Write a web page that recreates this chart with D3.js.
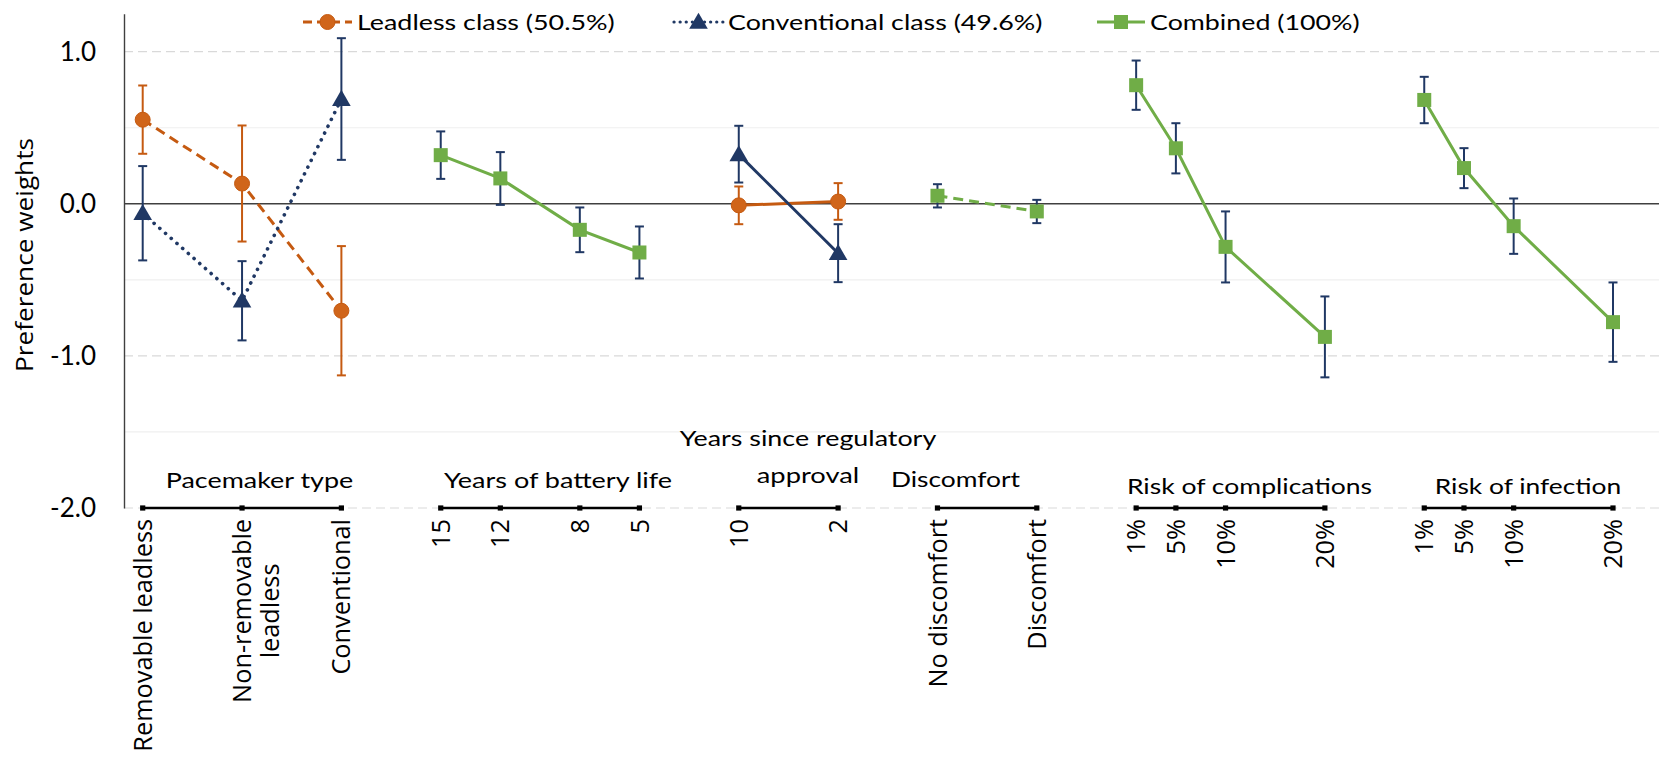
<!DOCTYPE html>
<html>
<head>
<meta charset="utf-8">
<script src="https://cdn.jsdelivr.net/npm/d3@7"></script>
<style>
  html, body { margin: 0; padding: 0; background: #fff; }
  svg { display: block; }
</style>
</head>
<body>
<svg id="chart" width="1659" height="760"></svg>
<script>
// ---------------- DATA ----------------
const groupNames = ["Pacemaker type", "Years of battery life", "Years since regulatory\napproval", "Discomfort", "Risk of complications", "Risk of infection"];
const levelLabels = ["Removable leadless", "Non-removable\nleadless", "Conventional", "15", "12", "8", "5", "10", "2", "No discomfort", "Discomfort", "1%", "5%", "10%", "20%", "1%", "5%", "10%", "20%"];
const levelGroup = [0, 0, 0, 1, 1, 1, 1, 2, 2, 3, 3, 4, 4, 4, 4, 5, 5, 5, 5];
// x values of the scatter (level position along the axis)
const levelX = [1, 6, 11, 16, 19, 23, 26, 31, 36, 41, 46, 51, 53, 55.5, 60.5, 65.5, 67.5, 70, 75];

const seriesNames = ["Leadless class (50.5%)", "Conventional class (49.6%)", "Combined (100%)"];
const leadlessVal = [0.553, 0.133, -0.703, null, null, null, null, -0.010, 0.015, null, null, null, null, null, null, null, null, null, null];
const leadlessHi  = [0.778, 0.515, -0.278, null, null, null, null, 0.114, 0.136, null, null, null, null, null, null, null, null, null, null];
const leadlessLo  = [0.329, -0.248, -1.128, null, null, null, null, -0.134, -0.105, null, null, null, null, null, null, null, null, null, null];

const conventionalVal = [-0.062, -0.637, 0.689, null, null, null, null, 0.325, -0.325, null, null, null, null, null, null, null, null, null, null];
const conventionalHi  = [0.248, -0.377, 1.089, null, null, null, null, 0.513, -0.134, null, null, null, null, null, null, null, null, null, null];
const conventionalLo  = [-0.372, -0.898, 0.289, null, null, null, null, 0.140, -0.515, null, null, null, null, null, null, null, null, null, null];

const combinedVal = [null, null, null, 0.320, 0.167, -0.171, -0.320, null, null, 0.053, -0.050, 0.780, 0.365, -0.283, -0.875, 0.683, 0.235, -0.147, -0.778];
const combinedHi  = [null, null, null, 0.476, 0.340, -0.024, -0.149, null, null, 0.129, 0.026, 0.942, 0.530, -0.050, -0.609, 0.835, 0.366, 0.035, -0.517];
const combinedLo  = [null, null, null, 0.164, -0.007, -0.318, -0.491, null, null, -0.024, -0.127, 0.618, 0.200, -0.517, -1.141, 0.530, 0.103, -0.329, -1.039];

const yTickValues = [1, 0, -1, -2];
const yAxisTitle = "Preference weights";

// ---------------- STYLE / LAYOUT ----------------
const W = 1659, H = 760;
const ORANGE = "#C55A11", NAVY = "#203864", GREEN = "#70AD47";
const svg = d3.select("#chart");

const x = d3.scaleLinear().domain([1, 75]).range([142.7, 1613]);
const y = d3.scaleLinear().domain([-2, 1.25]).range([508, 13.7]);
const axisX = 124;

// Calibri-like advance widths (per em) to size narrow text
const cw = {a:.479,b:.525,c:.423,d:.525,e:.498,f:.305,g:.471,h:.525,i:.229,j:.239,k:.455,l:.229,m:.799,n:.525,o:.527,p:.525,q:.525,r:.349,s:.391,t:.335,u:.525,v:.452,w:.715,x:.433,y:.453,z:.395,
  A:.579,B:.544,C:.533,D:.615,E:.488,F:.459,G:.631,H:.623,I:.252,L:.420,P:.517,R:.543,S:.459,T:.487,Y:.487," ":.226,".":.252,"%":.715,"(":.303,")":.303,"-":.306};
function calW(s, size) { let t = 0; for (const ch of s) t += (cw[ch] !== undefined ? cw[ch] : (/[0-9]/.test(ch) ? .507 : .5)); return t * size; }

// ---------------- GRIDLINES ----------------
const gridVals = y.ticks(7); // step 0.5
svg.append("g").selectAll("line").data(gridVals.filter(v => v !== 0)).join("line")
  .attr("x1", axisX).attr("x2", W)
  .attr("y1", d => y(d)).attr("y2", d => y(d))
  .attr("stroke", d => Number.isInteger(d) ? "#d9d9d9" : "#efefef")
  .attr("stroke-width", 1.2)
  .attr("stroke-dasharray", d => Number.isInteger(d) ? "9,5" : null);

// zero line
svg.append("line").attr("x1", axisX).attr("x2", W).attr("y1", y(0)).attr("y2", y(0))
  .attr("stroke", "#404040").attr("stroke-width", 1.4);

// ---------------- Y AXIS ----------------
const yAxis = d3.axisLeft(y).tickValues(yTickValues).tickSize(0).tickSizeOuter(0).tickPadding(28)
  .tickFormat(d => d3.format(".1f")(d).replace("\u2212", "-"));
const gy = svg.append("g").attr("transform", `translate(${axisX},0)`).call(yAxis);
gy.select(".domain").attr("stroke", "#404040").attr("stroke-width", 1.4);
gy.selectAll("text").attr("font-family", "Lato, 'Liberation Sans', sans-serif").attr("font-size", 26).attr("fill", "#000");

svg.append("text").attr("transform", `translate(33,255) rotate(-90)`)
  .attr("text-anchor", "middle").attr("font-family", "'Open Sans', 'Noto Sans', sans-serif")
  .attr("font-size", 24).attr("fill", "#000")
  .attr("textLength", 234).attr("lengthAdjust", "spacingAndGlyphs").text(yAxisTitle);

// ---------------- X CATEGORY AXES ----------------
const groupIdx = d3.range(groupNames.length);
groupIdx.forEach(g => {
  const idx = levelGroup.map((gg, i) => gg === g ? i : -1).filter(i => i >= 0);
  const x0 = x(levelX[idx[0]]), x1 = x(levelX[idx[idx.length - 1]]);
  svg.append("line").attr("x1", x0).attr("x2", x1).attr("y1", y(-2)).attr("y2", y(-2))
    .attr("stroke", "#000").attr("stroke-width", 2.4);
  svg.append("g").selectAll("rect").data(idx).join("rect")
    .attr("x", i => x(levelX[i]) - 2.6).attr("y", y(-2) - 2.6).attr("width", 5.2).attr("height", 5.2).attr("fill", "#000");
});

// rotated level labels
const labelTop = 519;
levelLabels.forEach((lab, i) => {
  const lines = lab.split("\n");
  const g = svg.append("g").attr("transform", `translate(${x(levelX[i])},${labelTop}) rotate(-90)`);
  const texts = lines.map((ln, k) => g.append("text")
    .attr("font-family", "'Open Sans', 'Noto Sans', sans-serif").attr("font-size", 25.3).attr("fill", "#000")
    .attr("y", k * 28).attr("dy", "0.36em").text(ln));
  if (lines.length === 1) {
    texts[0].attr("text-anchor", "end").attr("x", 0);
  } else {
    const L = d3.max(texts, t => t.node().getComputedTextLength());
    texts.forEach(t => t.attr("text-anchor", "middle").attr("x", -L / 2));
  }
});

// group titles (text boxes)
const titleLayout = [
  {cx: 259.5, base: [488]},
  {cx: 558, base: [488]},
  {cx: 808, base: [446, 483]},
  {cx: 955.5, base: [487]},
  {cx: 1249.5, base: [494]},
  {cx: 1528, base: [494]}
];
groupNames.forEach((name, g) => {
  name.split("\n").forEach((ln, k) => {
    svg.append("text").attr("x", titleLayout[g].cx).attr("y", titleLayout[g].base[k])
      .attr("text-anchor", "middle").attr("font-family", "Lato, 'Liberation Sans', sans-serif")
      .attr("font-size", 22).attr("fill", "#000")
      .attr("textLength", calW(ln, 28.7)).attr("lengthAdjust", "spacingAndGlyphs").text(ln);
  });
});

// ---------------- SERIES ----------------
const series = [
  {name: seriesNames[0], val: leadlessVal, hi: leadlessHi, lo: leadlessLo, color: ORANGE, errColor: ORANGE, marker: "circle",
   dash: {0: "10,6", 2: null}},
  {name: seriesNames[1], val: conventionalVal, hi: conventionalHi, lo: conventionalLo, color: NAVY, errColor: NAVY, marker: "triangle",
   dash: {0: "0.1,7.5", 2: null}},
  {name: seriesNames[2], val: combinedVal, hi: combinedHi, lo: combinedLo, color: GREEN, errColor: NAVY, marker: "square",
   dash: {1: null, 3: "10,6", 4: null, 5: null}}
];

let s_cur = null;
const line = d3.line().x(i => x(levelX[i])).y(i => y(s_cur.val[i]));
const gLines = svg.append("g"), gErr = svg.append("g"), gMark = svg.append("g");

series.forEach(s => {
  s_cur = s;
  groupIdx.forEach(g => {
    const idx = levelGroup.map((gg, i) => (gg === g && s.val[i] !== null) ? i : -1).filter(i => i >= 0);
    if (idx.length < 2) return;
    const dash = s.dash[g];
    gLines.append("path").attr("d", line(idx)).attr("fill", "none")
      .attr("stroke", s.color).attr("stroke-width", dash && dash.startsWith("0.1") ? 3.6 : 3)
      .attr("stroke-linecap", dash && dash.startsWith("0.1") ? "round" : "butt")
      .attr("stroke-dasharray", dash);
  });
});

function drawMarker(sel, type, color, cx, cy) {
  if (type === "circle") {
    sel.append("circle").attr("cx", cx).attr("cy", cy).attr("r", 7.5).attr("fill", "#D0651A").attr("stroke", color).attr("stroke-width", 1);
  } else if (type === "triangle") {
    sel.append("path").attr("d", d3.symbol(d3.symbolTriangle, 150)()).attr("transform", `translate(${cx},${cy + 1.5})`).attr("fill", color);
  } else {
    sel.append("rect").attr("x", cx - 7).attr("y", cy - 7).attr("width", 14).attr("height", 14).attr("fill", color);
  }
}

series.forEach(s => {
  s.val.forEach((v, i) => {
    if (v === null) return;
    const cx = x(levelX[i]);
    gErr.append("line").attr("x1", cx).attr("x2", cx).attr("y1", y(s.hi[i])).attr("y2", y(s.lo[i]))
      .attr("stroke", s.errColor).attr("stroke-width", 2);
    [s.hi[i], s.lo[i]].forEach(e => gErr.append("line").attr("x1", cx - 4.5).attr("x2", cx + 4.5)
      .attr("y1", y(e)).attr("y2", y(e)).attr("stroke", s.errColor).attr("stroke-width", 2));
    drawMarker(gMark, s.marker, s.color, cx, y(v));
  });
});

// ---------------- LEGEND ----------------
const legendLayout = [
  {x0: 303, x1: 352, tx: 357},
  {x0: 674, x1: 723, tx: 728},
  {x0: 1097, x1: 1145, tx: 1150}
];
const legY = 22;
series.forEach((s, k) => {
  const L = legendLayout[k];
  const firstDash = Object.values(s.dash)[0];
  svg.append("line").attr("x1", L.x0).attr("x2", L.x1).attr("y1", legY).attr("y2", legY)
    .attr("stroke", s.color).attr("stroke-width", firstDash && firstDash.startsWith("0.1") ? 3.2 : 3)
    .attr("stroke-linecap", firstDash && firstDash.startsWith("0.1") ? "round" : "butt")
    .attr("stroke-dasharray", firstDash ? (firstDash.startsWith("0.1") ? "0.1,6" : "9,5") : null);
  drawMarker(svg, s.marker, s.color, (L.x0 + L.x1) / 2, legY);
  svg.append("text").attr("x", L.tx).attr("y", 29.5).attr("font-family", "Lato, 'Liberation Sans', sans-serif")
    .attr("font-size", 22).attr("fill", "#000")
    .attr("textLength", calW(s.name, 29)).attr("lengthAdjust", "spacingAndGlyphs").text(s.name);
});
</script>
</body>
</html>
